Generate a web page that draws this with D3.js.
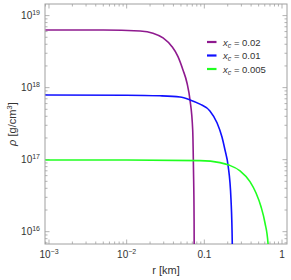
<!DOCTYPE html>
<html>
<head>
<meta charset="utf-8">
<script src="https://cdn.jsdelivr.net/npm/d3@7"></script>
<style>
  body { margin: 0; background: #fff; }
  svg { font-family: "Liberation Sans", Arial, sans-serif; }
</style>
</head>
<body>
<div id="chart"></div>
<script>
// values
const series = ['x_c = 0.02', 'x_c = 0.01', 'x_c = 0.005'];
const xcLabels = ['0.02', '0.01', '0.005'];
const colors = ['#8f1a8f', '#1010ff', '#20ff20'];

const rPurple = [0.0009, 0.005, 0.0149, 0.0218, 0.0294, 0.0384, 0.0458, 0.0531, 0.0598, 0.0654, 0.0708, 0.0725, 0.0738, 0.0745];
const rhoPurple = [6.3e18, 6.3e18, 6.1e18, 5.7e18, 4.9e18, 3.7e18, 2.7e18, 1.76e18, 1.16e18, 6.7e17, 2.6e17, 7.2e16, 1.5e16, 1e15];

const rBlue = [0.0009, 0.01, 0.0268, 0.0486, 0.0654, 0.0879, 0.118, 0.1456, 0.1687, 0.1845, 0.2018, 0.2206, 0.229, 0.2315];
const rhoBlue = [7.9e17, 7.85e17, 7.7e17, 7.4e17, 6.75e17, 5.9e17, 4.75e17, 3.25e17, 2.06e17, 1.36e17, 8.4e16, 2.75e16, 6.7e15, 1e15];

const rGreen = [0.0009, 0.01, 0.0879, 0.159, 0.208, 0.288, 0.387, 0.463, 0.537, 0.604, 0.661, 0.67];
const rhoGreen = [9.9e16, 9.9e16, 9.7e16, 9.1e16, 8.4e16, 7.0e16, 4.95e16, 3.44e16, 2.22e16, 1.32e16, 6.8e15, 1e15];

const xTickVals = [1e-3, 1e-2, 0.1, 1];
const xTickText = [['10', '\u22123'], ['10', '\u22122'], ['0.1', ''], ['1', '']];
const yTickVals = [1e16, 1e17, 1e18, 1e19];
const yTickText = [['10', '16'], ['10', '17'], ['10', '18'], ['10', '19']];

const w = 291;
const h = 280;
const plot = { left: 45, right: 287, top: 4, bottom: 244 };

const x = d3.scaleLog()
  .domain([Math.pow(10, -3.0515), Math.pow(10, 0.0643)])
  .range([plot.left, plot.right]);

const y = d3.scaleLog()
  .domain([Math.pow(10, 15.829), Math.pow(10, 19.161)])
  .range([plot.bottom, plot.top]);

const svg = d3.select('#chart').append('svg')
  .attr('width', w)
  .attr('height', h);

svg.append('defs').append('clipPath')
  .attr('id', 'clip')
  .append('rect')
  .attr('x', plot.left)
  .attr('y', plot.top)
  .attr('width', plot.right - plot.left)
  .attr('height', plot.bottom - plot.top);

// minor + major ticks, drawn inside the frame on all four sides
function minorTicks(scale) {
  const d = scale.domain();
  return scale.ticks().filter(v => v >= d[0] && v <= d[1]);
}
const frameCol = '#a0a0a0';
const xAll = minorTicks(x);
const yAll = minorTicks(y);
const isMajor = v => Math.abs(Math.log10(v) - Math.round(Math.log10(v))) < 1e-6;

const ticks = svg.append('g').attr('stroke', frameCol).attr('stroke-width', 0.8);
xAll.forEach(v => {
  const len = isMajor(v) ? 4.5 : 2.5;
  ticks.append('line').attr('x1', x(v)).attr('x2', x(v))
    .attr('y1', plot.bottom).attr('y2', plot.bottom - len);
  ticks.append('line').attr('x1', x(v)).attr('x2', x(v))
    .attr('y1', plot.top).attr('y2', plot.top + len);
});
yAll.forEach(v => {
  const len = isMajor(v) ? 4.5 : 2.5;
  ticks.append('line').attr('y1', y(v)).attr('y2', y(v))
    .attr('x1', plot.left).attr('x2', plot.left + len);
  ticks.append('line').attr('y1', y(v)).attr('y2', y(v))
    .attr('x1', plot.right).attr('x2', plot.right - len);
});

svg.append('rect')
  .attr('x', plot.left)
  .attr('y', plot.top)
  .attr('width', plot.right - plot.left)
  .attr('height', plot.bottom - plot.top)
  .attr('fill', 'none')
  .attr('stroke', frameCol)
  .attr('stroke-width', 1);

// tick labels
const labCol = '#333';
xTickVals.forEach((v, i) => {
  const t = svg.append('text')
    .attr('x', x(v))
    .attr('y', plot.bottom + 14)
    .attr('text-anchor', 'middle')
    .attr('font-size', 10)
    .attr('fill', labCol);
  t.append('tspan').text(xTickText[i][0]);
  if (xTickText[i][1]) {
    t.append('tspan').attr('dy', -4).attr('font-size', 7).text(xTickText[i][1]);
  }
});
yTickVals.forEach((v, i) => {
  const t = svg.append('text')
    .attr('x', plot.left - 5)
    .attr('y', y(v) + 3.5)
    .attr('text-anchor', 'end')
    .attr('font-size', 10)
    .attr('fill', labCol);
  t.append('tspan').text(yTickText[i][0]);
  t.append('tspan').attr('dy', -4).attr('font-size', 7).text(yTickText[i][1]);
});

// axis titles
svg.append('text')
  .attr('x', (plot.left + plot.right) / 2)
  .attr('y', 274)
  .attr('text-anchor', 'middle')
  .attr('font-size', 11)
  .attr('fill', labCol)
  .text('r [km]');

const yl = svg.append('text')
  .attr('transform', 'translate(16,' + ((plot.top + plot.bottom) / 2) + ') rotate(-90)')
  .attr('text-anchor', 'middle')
  .attr('font-size', 11)
  .attr('fill', labCol);
yl.append('tspan').attr('font-style', 'italic').text('\u03c1');
yl.append('tspan').text(' [g/cm');
yl.append('tspan').attr('dy', -4).attr('font-size', 8).text('3');
yl.append('tspan').attr('dy', 4).text(']');

// curves
const data = [
  d3.zip(rPurple, rhoPurple),
  d3.zip(rBlue, rhoBlue),
  d3.zip(rGreen, rhoGreen)
];

const line = d3.line()
  .x(d => x(d[0]))
  .y(d => y(d[1]))
  .curve(d3.curveMonotoneX);

svg.append('g')
  .attr('clip-path', 'url(#clip)')
  .selectAll('path')
  .data(data)
  .enter()
  .append('path')
  .attr('d', line)
  .attr('fill', 'none')
  .attr('stroke', (d, i) => colors[i])
  .attr('stroke-width', 1.6);

// legend
const legend = svg.append('g').attr('transform', 'translate(207,42)');
series.forEach((s, i) => {
  const g = legend.append('g').attr('transform', 'translate(0,' + (i * 13.5) + ')');
  g.append('line')
    .attr('x1', 0).attr('x2', 9.5)
    .attr('y1', 0).attr('y2', 0)
    .attr('stroke', colors[i])
    .attr('stroke-width', 2.2);
  const t = g.append('text')
    .attr('x', 16)
    .attr('y', 3.5)
    .attr('font-size', 9.5)
    .attr('fill', labCol);
  t.append('tspan').attr('font-style', 'italic').text('x');
  t.append('tspan').attr('dy', 2).attr('font-size', 7).attr('font-style', 'italic').text('c');
  t.append('tspan').attr('dy', -2).text(' = ' + xcLabels[i]);
});
</script>
</body>
</html>
